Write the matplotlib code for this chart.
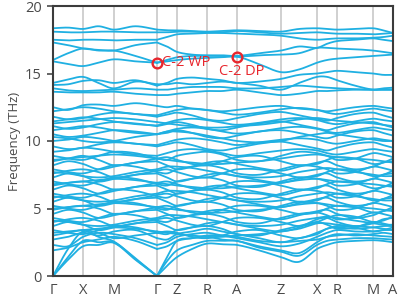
import numpy as np
import matplotlib
matplotlib.use("Agg")
import matplotlib.pyplot as plt

plt.rcParams["font.family"] = ["Open Sans", "DejaVu Sans"]

# ── High-symmetry path ────────────────────────
sym_labels = ["Γ", "X", "M", "Γ", "Z", "R", "A", "Z", "X", "R", "M", "A"]
sym_pos    = [0, 30, 61, 104, 124, 154, 184, 228, 264, 284, 320, 340]

# Each band: values at Γ, mid, X, mid, M, mid, Γ, mid, Z, mid, R, mid, A,
#            mid, Z, mid, X, mid, R, mid, M, mid, A   (THz)
acoustic = [
    [0, 1.2, 2.2, 2.3, 2.45, 1.2, 0, 0.75, 1.4, 2.0, 2.4, 2.35, 2.3, 1.9, 1.4, 1.05, 2.0, 2.3, 2.5, 2.6, 2.65, 2.6, 2.5],
    [0, 1.4, 2.6, 2.5, 2.5, 1.25, 0, 1.1, 1.9, 2.3, 2.6, 2.6, 2.6, 2.1, 1.8, 1.5, 2.3, 2.6, 2.7, 2.8, 2.8, 2.75, 2.7],
    [0, 2.0, 3.3, 2.9, 2.55, 1.3, 0, 1.4, 2.6, 2.8, 3.0, 3.0, 2.9, 2.6, 2.5, 2.6, 2.7, 2.9, 3.0, 3.1, 3.0, 2.95, 2.9],
]

optical_low = [
    [1.9, 2.1, 2.5, 2.7, 2.9, 2.6, 2.0, 2.2, 2.6, 2.8, 2.9, 2.7, 2.6, 2.2, 1.9, 1.7, 2.5, 2.9, 3.1, 3.0, 3.1, 3.2, 3.1],
    [2.3, 2.2, 2.9, 3.2, 3.1, 2.8, 2.3, 2.5, 2.9, 3.1, 3.2, 3.0, 2.8, 2.5, 2.2, 2.4, 2.9, 3.2, 3.4, 3.3, 3.3, 3.4, 3.4],
    [2.7, 2.9, 3.2, 3.0, 3.3, 3.4, 2.8, 2.7, 3.1, 3.3, 3.5, 3.3, 3.1, 2.8, 2.5, 2.8, 3.1, 3.5, 3.6, 3.5, 3.6, 3.7, 3.7],
    [3.0, 3.2, 3.4, 3.2, 2.8, 3.0, 3.2, 3.3, 3.2, 2.9, 2.8, 3.0, 3.3, 3.4, 3.0, 2.8, 3.2, 3.5, 3.7, 3.6, 3.3, 3.4, 3.6],
    [3.2, 3.3, 3.4, 3.5, 3.6, 3.5, 3.3, 3.2, 3.1, 3.0, 2.9, 2.9, 3.0, 3.1, 3.3, 3.5, 3.9, 3.9, 3.8, 3.7, 3.6, 3.5, 3.4],
    [3.4, 3.2, 3.1, 3.4, 3.7, 3.6, 3.2, 3.1, 3.4, 3.6, 3.7, 3.5, 3.1, 3.0, 3.4, 3.7, 4.0, 3.8, 3.5, 3.6, 4.0, 3.9, 3.7],
    [3.7, 4.0, 3.8, 3.4, 3.6, 3.9, 4.0, 3.7, 3.4, 3.6, 3.9, 4.0, 3.8, 3.5, 3.3, 3.6, 4.2, 4.3, 4.0, 3.7, 3.9, 4.2, 4.3],
    [4.0, 4.2, 4.3, 4.1, 3.7, 3.9, 4.2, 4.3, 4.1, 3.8, 3.7, 4.0, 4.3, 4.3, 4.0, 3.7, 4.0, 4.3, 4.5, 4.4, 4.0, 4.1, 4.4],
    [4.1, 4.0, 3.8, 3.7, 3.8, 4.1, 4.3, 4.5, 4.5, 4.4, 4.2, 4.0, 3.8, 3.7, 3.8, 4.1, 4.3, 4.4, 4.3, 4.1, 3.9, 3.8, 3.8],
    [4.3, 4.1, 4.0, 4.3, 4.6, 4.5, 4.1, 4.0, 4.3, 4.5, 4.6, 4.4, 4.0, 3.9, 4.3, 4.6, 4.7, 4.5, 4.2, 4.3, 4.7, 4.6, 4.4],
    [4.6, 4.9, 4.7, 4.3, 4.5, 4.8, 4.9, 4.6, 4.3, 4.5, 4.8, 4.9, 4.7, 4.4, 4.2, 4.5, 4.8, 4.9, 4.6, 4.3, 4.5, 4.8, 4.9],
    [4.9, 5.1, 5.2, 5.0, 4.6, 4.8, 5.1, 5.2, 5.0, 4.7, 4.6, 4.9, 5.2, 5.2, 4.9, 4.6, 4.7, 5.0, 5.2, 5.1, 4.7, 4.8, 5.1],
    [5.0, 5.1, 5.2, 5.3, 5.4, 5.3, 5.1, 5.0, 4.9, 4.8, 4.7, 4.7, 4.8, 4.9, 5.1, 5.3, 5.4, 5.3, 5.2, 5.1, 5.0, 4.9, 4.8],
    [5.2, 5.0, 4.9, 5.2, 5.5, 5.4, 5.0, 4.9, 5.2, 5.4, 5.5, 5.3, 4.9, 4.8, 5.2, 5.5, 5.4, 5.2, 4.9, 5.0, 5.4, 5.3, 5.1],
    [5.5, 5.8, 5.6, 5.2, 5.4, 5.7, 5.8, 5.5, 5.2, 5.4, 5.7, 5.8, 5.6, 5.3, 5.1, 5.4, 5.7, 5.8, 5.5, 5.2, 5.4, 5.7, 5.8],
    [5.8, 6.0, 6.1, 5.9, 5.5, 5.7, 6.0, 6.1, 5.9, 5.6, 5.5, 5.8, 6.1, 6.1, 5.8, 5.5, 5.6, 5.9, 6.1, 6.0, 5.6, 5.7, 6.0],
    [5.9, 5.8, 5.6, 5.5, 5.6, 5.9, 6.1, 6.3, 6.3, 6.2, 6.0, 5.8, 5.6, 5.5, 5.6, 5.9, 6.1, 6.2, 6.1, 5.9, 5.7, 5.6, 5.6],
    [6.1, 5.9, 5.8, 6.1, 6.4, 6.3, 5.9, 5.8, 6.1, 6.3, 6.4, 6.2, 5.8, 5.7, 6.1, 6.4, 6.3, 6.1, 5.8, 5.9, 6.3, 6.2, 6.0],
    [6.4, 6.7, 6.5, 6.1, 6.3, 6.6, 6.7, 6.4, 6.1, 6.3, 6.6, 6.7, 6.5, 6.2, 6.0, 6.3, 6.6, 6.7, 6.4, 6.1, 6.3, 6.6, 6.7],
    [6.7, 6.9, 7.0, 6.8, 6.4, 6.6, 6.9, 7.0, 6.8, 6.5, 6.4, 6.7, 7.0, 7.0, 6.7, 6.4, 6.5, 6.8, 7.0, 6.9, 6.5, 6.6, 6.9],
    [6.8, 6.9, 7.0, 7.1, 7.2, 7.1, 6.9, 6.8, 6.7, 6.6, 6.5, 6.5, 6.6, 6.7, 6.9, 7.1, 7.2, 7.1, 7.0, 6.9, 6.8, 6.7, 6.6],
    [7.0, 6.8, 6.7, 7.0, 7.3, 7.2, 6.8, 6.7, 7.0, 7.2, 7.3, 7.1, 6.7, 6.6, 7.0, 7.3, 7.2, 7.0, 6.7, 6.8, 7.2, 7.1, 6.9],
    [7.3, 7.6, 7.4, 7.0, 7.2, 7.5, 7.6, 7.3, 7.0, 7.2, 7.5, 7.6, 7.4, 7.1, 6.9, 7.2, 7.5, 7.6, 7.3, 7.0, 7.2, 7.5, 7.6],
    [7.6, 7.8, 7.9, 7.7, 7.3, 7.5, 7.8, 7.9, 7.7, 7.4, 7.3, 7.6, 7.9, 7.9, 7.6, 7.3, 7.4, 7.7, 7.9, 7.8, 7.4, 7.5, 7.8],
    [7.7, 7.6, 7.4, 7.3, 7.4, 7.7, 7.9, 8.1, 8.1, 8.0, 7.8, 7.6, 7.4, 7.3, 7.4, 7.7, 7.9, 8.0, 7.9, 7.7, 7.5, 7.4, 7.4],
    [7.9, 7.7, 7.6, 7.9, 8.2, 8.1, 7.7, 7.6, 7.9, 8.1, 8.2, 8.0, 7.6, 7.5, 7.9, 8.2, 8.1, 7.9, 7.6, 7.7, 8.1, 8.0, 7.8],
    [8.2, 8.5, 8.3, 7.9, 8.1, 8.4, 8.5, 8.2, 7.9, 8.1, 8.4, 8.5, 8.3, 8.0, 7.8, 8.1, 8.4, 8.5, 8.2, 7.9, 8.1, 8.4, 8.5],
    [8.5, 8.7, 8.9, 8.6, 8.2, 8.4, 8.7, 8.8, 8.6, 8.3, 8.2, 8.5, 8.8, 8.9, 8.5, 8.2, 8.3, 8.6, 8.8, 8.7, 8.3, 8.4, 8.7],
    [8.6, 8.7, 8.8, 8.9, 9.0, 8.9, 8.7, 8.6, 8.5, 8.4, 8.3, 8.3, 8.4, 8.5, 8.7, 8.9, 9.0, 8.9, 8.8, 8.7, 8.6, 8.5, 8.4],
    [8.9, 8.7, 8.6, 8.9, 9.2, 9.1, 8.7, 8.6, 8.9, 9.1, 9.2, 9.0, 8.6, 8.5, 8.9, 9.2, 9.1, 8.9, 8.6, 8.7, 9.1, 9.0, 8.8],
]

optical_mid = [
    [9.2, 9.3, 9.5, 9.4, 9.2, 9.0, 8.9, 9.1, 9.3, 9.4, 9.3, 9.1, 8.9, 9.1, 9.3, 9.4, 9.3, 9.1, 9.0, 9.2, 9.4, 9.3, 9.2],
    [9.6, 9.4, 9.5, 9.75, 9.9, 9.8, 9.6, 9.75, 9.9, 9.7, 9.4, 9.3, 9.5, 9.8, 9.95, 9.7, 9.45, 9.3, 9.5, 9.8, 9.9, 9.7, 9.5],
    [10.0, 10.1, 10.3, 10.2, 10.0, 9.8, 9.7, 9.9, 10.1, 10.2, 10.1, 9.9, 9.7, 9.9, 10.1, 10.2, 10.1, 9.9, 9.8, 10.0, 10.2, 10.1, 10.0],
    [10.3, 10.2, 10.0, 9.9, 10.0, 10.3, 10.5, 10.7, 10.7, 10.6, 10.4, 10.2, 10.0, 9.9, 10.0, 10.3, 10.5, 10.6, 10.5, 10.3, 10.1, 10.0, 10.0],
    [10.5, 10.3, 10.4, 10.6, 10.8, 10.7, 10.5, 10.6, 10.8, 10.6, 10.3, 10.2, 10.4, 10.7, 10.8, 10.6, 10.3, 10.2, 10.4, 10.7, 10.8, 10.6, 10.4],
    [10.8, 10.95, 11.1, 11.0, 10.8, 10.6, 10.5, 10.7, 10.9, 11.0, 10.9, 10.7, 10.55, 10.7, 10.95, 11.05, 10.9, 10.7, 10.6, 10.8, 11.0, 10.9, 10.8],
    [11.1, 10.9, 11.0, 11.25, 11.4, 11.3, 11.1, 11.25, 11.4, 11.2, 10.9, 10.8, 11.0, 11.3, 11.45, 11.2, 10.95, 10.8, 11.0, 11.3, 11.4, 11.2, 11.0],
    [11.3, 11.4, 11.5, 11.6, 11.7, 11.6, 11.4, 11.3, 11.2, 11.1, 11.0, 11.0, 11.1, 11.2, 11.4, 11.6, 11.7, 11.6, 11.5, 11.4, 11.3, 11.2, 11.1],
    [11.45, 11.6, 11.75, 11.65, 11.45, 11.25, 11.15, 11.35, 11.55, 11.65, 11.55, 11.35, 11.2, 11.35, 11.6, 11.7, 11.55, 11.35, 11.25, 11.45, 11.65, 11.55, 11.45],
    [11.8, 11.6, 11.7, 11.95, 12.1, 12.0, 11.8, 11.95, 12.1, 11.9, 11.6, 11.5, 11.7, 12.0, 12.15, 11.9, 11.65, 11.5, 11.7, 12.0, 12.1, 11.9, 11.7],
    [12.2, 12.35, 12.5, 12.4, 12.2, 12.0, 11.9, 12.1, 12.3, 12.4, 12.3, 12.1, 11.95, 12.1, 12.35, 12.45, 12.3, 12.1, 12.0, 12.2, 12.4, 12.3, 12.2],
    [12.5, 12.3, 12.65, 12.7, 12.6, 12.8, 12.6, 12.5, 12.6, 12.4, 12.3, 12.2, 12.3, 12.5, 12.6, 12.4, 12.3, 12.2, 12.3, 12.5, 12.6, 12.5, 12.4],
]

optical_high = [
    [13.65, 13.6, 13.6, 13.6, 13.65, 13.5, 13.4, 13.4, 13.5, 13.6, 13.7, 13.7, 13.8, 13.6, 13.4, 13.5, 13.7, 13.7, 13.75, 13.8, 13.8, 13.8, 13.8],
    [13.9, 13.75, 13.7, 13.75, 13.8, 13.9, 13.8, 13.8, 13.9, 14.0, 14.0, 14.0, 13.9, 13.9, 14.0, 14.1, 14.0, 13.95, 13.9, 13.85, 13.8, 13.9, 13.95],
    [14.3, 14.55, 14.75, 14.3, 13.9, 14.4, 14.2, 14.2, 14.3, 14.2, 14.3, 14.4, 14.3, 14.1, 13.8, 14.3, 14.75, 14.75, 14.5, 14.1, 13.8, 13.8, 13.8],
    [14.15, 14.2, 14.45, 14.5, 14.3, 14.5, 14.1, 14.3, 14.6, 14.7, 14.6, 14.5, 14.3, 14.4, 14.6, 14.9, 15.0, 15.1, 15.2, 15.1, 15.0, 14.9, 14.9],
    [15.9, 15.7, 15.55, 15.8, 16.05, 15.9, 15.8, 15.9, 16.0, 16.1, 16.15, 16.2, 16.25, 15.7, 15.1, 15.3, 15.8, 16.0, 16.1, 16.2, 16.3, 16.35, 16.4],
    [16.0, 16.5, 16.85, 16.7, 16.7, 16.3, 15.8, 16.0, 16.2, 16.3, 16.3, 16.3, 16.25, 16.35, 16.4, 16.5, 16.9, 16.9, 16.85, 16.8, 16.7, 16.6, 16.5],
    [17.3, 17.1, 16.85, 16.75, 16.7, 17.1, 17.3, 17.0, 16.6, 16.4, 16.35, 16.35, 16.3, 16.5, 16.7, 17.0, 16.9, 17.2, 17.4, 17.5, 17.6, 17.5, 17.4],
    [17.5, 17.45, 17.5, 17.5, 17.45, 17.5, 17.5, 17.7, 17.9, 17.95, 18.0, 18.0, 17.95, 17.9, 17.8, 17.6, 17.5, 17.55, 17.6, 17.6, 17.65, 17.7, 17.8],
    [18.1, 18.05, 18.05, 18.1, 18.1, 18.05, 18.05, 18.05, 18.1, 18.1, 18.05, 18.05, 18.15, 18.05, 17.95, 18.0, 18.05, 18.0, 17.95, 17.95, 17.9, 17.95, 18.0],
    [18.35, 18.4, 18.3, 18.5, 18.25, 18.5, 18.25, 18.2, 18.2, 18.15, 18.1, 18.15, 18.2, 18.15, 18.1, 18.3, 18.35, 18.3, 18.25, 18.3, 18.35, 18.2, 18.0],
]

# Marked crossing points
marks     = ["C-2 WP", "C-2 DP"]
mark_sym  = [3, 6]          # index into sym_pos (Γ and A)
mark_freq = [15.8, 16.25]

# ── Style ─────────────────────────────────────
C_BAND  = "#1fb0e2"
C_GRID  = "#c4c4c4"
C_SPINE = "#3c3c3c"
C_TEXT  = "#4a4a4a"
C_MARK  = "#e8262d"


def node_positions():
    """High-symmetry points with a midpoint between each pair."""
    xs = []
    for a, b in zip(sym_pos[:-1], sym_pos[1:]):
        xs += [a, (a + b) / 2]
    xs.append(sym_pos[-1])
    return np.array(xs, dtype=float)


def hermite_curve(x, y, n=24):
    """Catmull-Rom style cubic through the nodes (drawing only)."""
    y = np.asarray(y, dtype=float)
    m = np.zeros_like(y)
    m[1:-1] = (y[2:] - y[:-2]) / (x[2:] - x[:-2])
    m[0]    = (y[1] - y[0]) / (x[1] - x[0])
    m[-1]   = (y[-1] - y[-2]) / (x[-1] - x[-2])
    xx, yy = [], []
    for i in range(len(x) - 1):
        h = x[i + 1] - x[i]
        t = np.linspace(0, 1, n, endpoint=False)
        h00 = 2 * t**3 - 3 * t**2 + 1
        h10 = t**3 - 2 * t**2 + t
        h01 = -2 * t**3 + 3 * t**2
        h11 = t**3 - t**2
        xx.append(x[i] + t * h)
        yy.append(h00 * y[i] + h10 * h * m[i] + h01 * y[i + 1] + h11 * h * m[i + 1])
    xx.append([x[-1]])
    yy.append([y[-1]])
    return np.concatenate(xx), np.concatenate(yy)


kx = node_positions()
# break the curves at the Γ points so acoustic branches keep their V shape
pieces = [(0, 6), (6, 22)]

fig = plt.figure(figsize=(4.0, 2.99), dpi=100)
ax = fig.add_axes([53 / 400, 23 / 299, 340 / 400, 270 / 299])

for xp in sym_pos[1:-1]:
    ax.axvline(xp, color=C_GRID, lw=1.1, zorder=1)

for band in acoustic + optical_low + optical_mid + optical_high:
    for i0, i1 in pieces:
        xx, yy = hermite_curve(kx[i0:i1 + 1], band[i0:i1 + 1])
        ax.plot(xx, yy, color=C_BAND, lw=1.3, zorder=2, solid_capstyle="round")

for si, f in zip(mark_sym, mark_freq):
    ax.plot(sym_pos[si], f, "o", ms=7, mfc="none", mec=C_MARK, mew=1.7, zorder=4)

ax.text(sym_pos[mark_sym[0]] + 5, mark_freq[0] + 0.05, marks[0], color=C_MARK,
        fontsize=10.5, ha="left", va="center", zorder=5)
ax.text(sym_pos[mark_sym[1]] - 18, mark_freq[1] - 1.1, marks[1], color=C_MARK,
        fontsize=10.5, ha="left", va="center", zorder=5)

ax.set_xlim(sym_pos[0], sym_pos[-1])
ax.set_ylim(0, 20)
ax.set_xticks(sym_pos)
ax.set_xticklabels(sym_labels)
ax.set_yticks([0, 5, 10, 15, 20])
ax.tick_params(axis="x", length=0, pad=5, labelsize=10.5, colors=C_TEXT)
ax.tick_params(axis="y", length=4, width=1.2, direction="out", pad=4,
               labelsize=10.5, colors=C_TEXT)
ax.set_ylabel("Frequency (THz)", fontsize=9.5, color=C_TEXT, labelpad=3)

for spine in ax.spines.values():
    spine.set_edgecolor(C_SPINE)
    spine.set_linewidth(1.5)
    spine.set_zorder(6)

fig.savefig("out.png", dpi=100)
